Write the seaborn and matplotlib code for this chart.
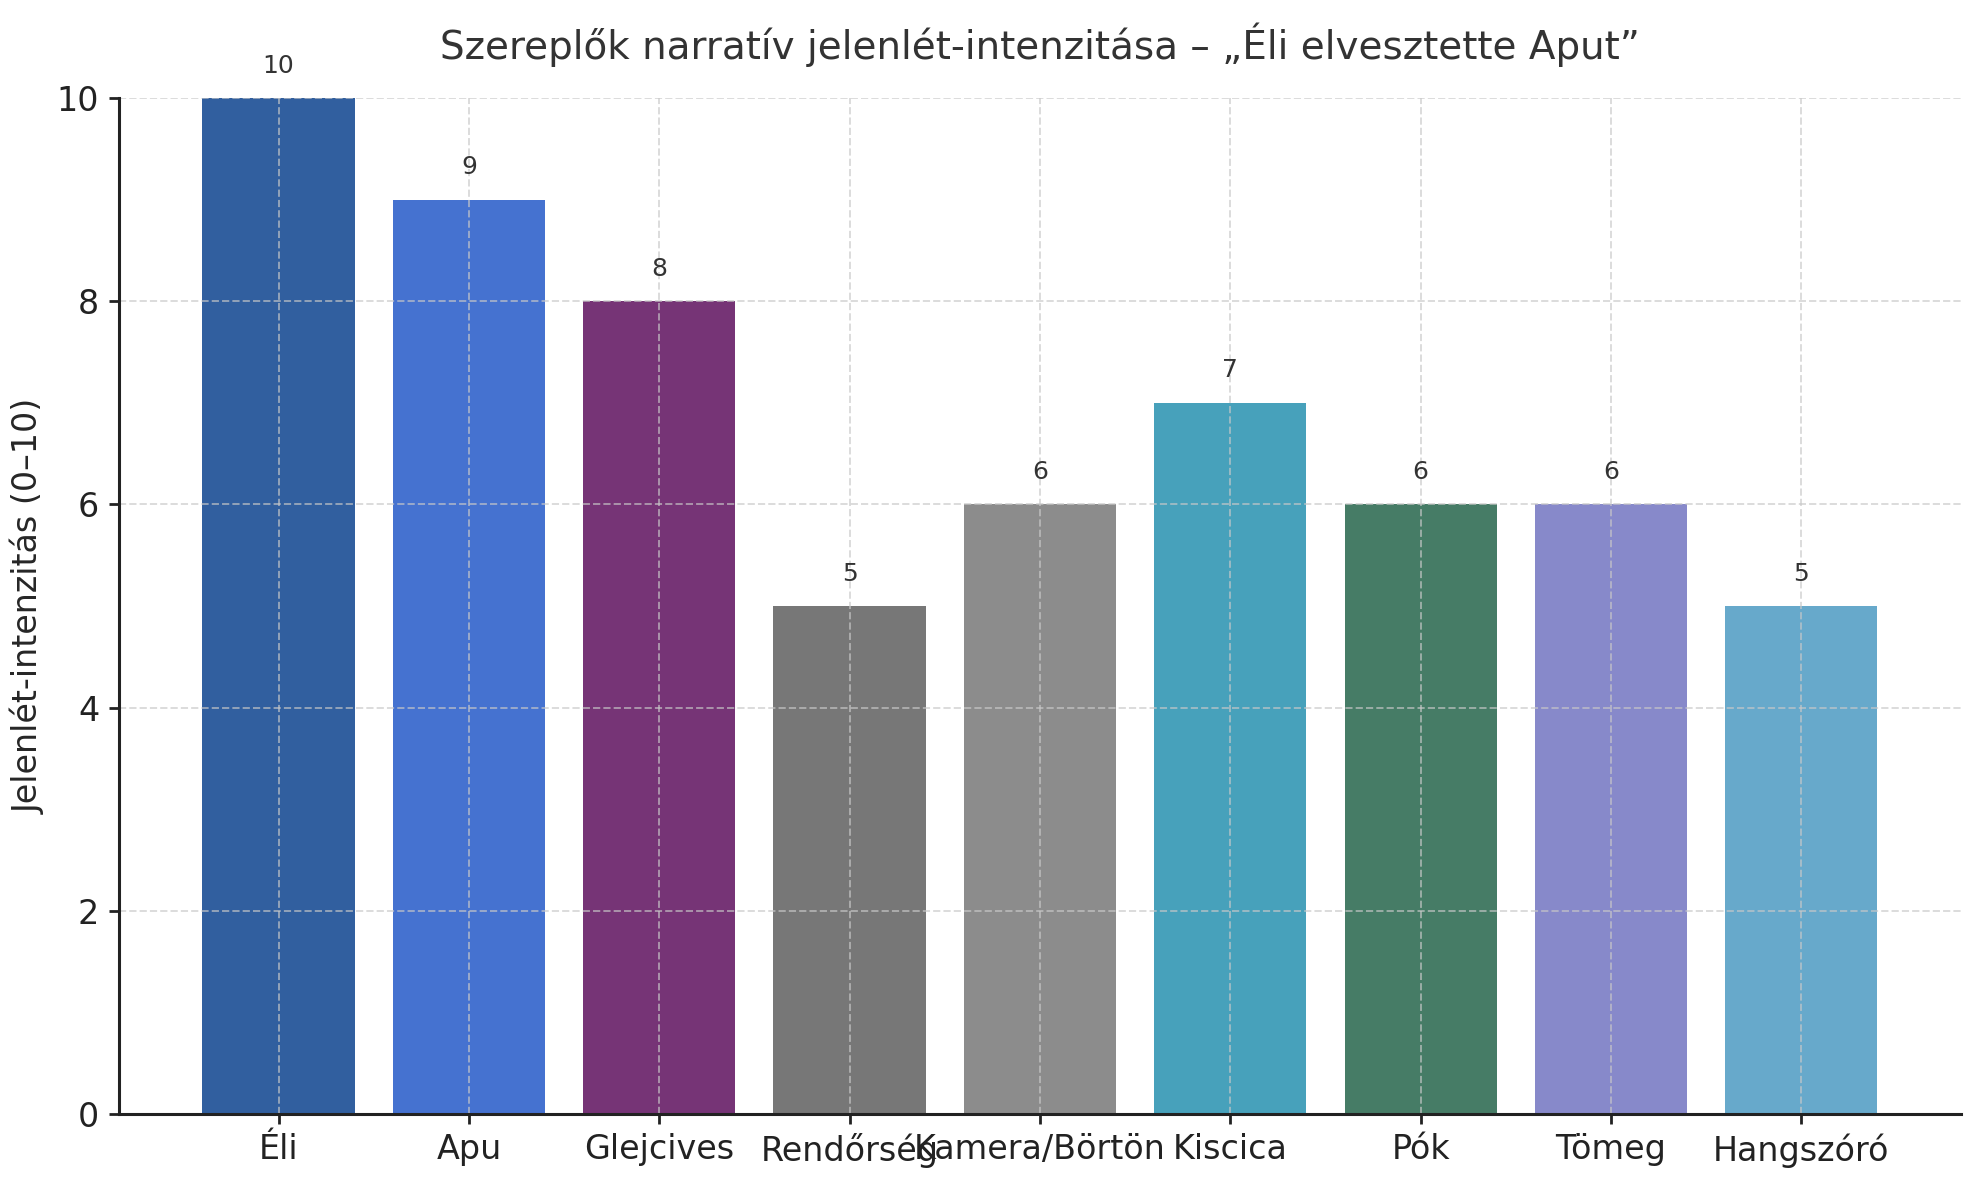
import matplotlib
matplotlib.use("Agg")
import matplotlib.pyplot as plt
import seaborn as sns
import pandas as pd

characters = ["Éli", "Apu", "Glejcives", "Rendőrség", "Kamera/Börtön",
              "Kiscica", "Pók", "Tömeg", "Hangszóró"]
intensity = [10, 9, 8, 5, 6, 7, 6, 6, 5]
bar_colors = ["#315f9f", "#4572d0", "#763476", "#777777", "#8c8c8c",
              "#47a1bb", "#467c66", "#8789ca", "#67a9cb"]

sns.set_style("white")
plt.rcParams['font.family'] = ['DejaVu Sans']

df = pd.DataFrame({"szereplo": characters, "ertek": intensity})

fig = plt.figure(figsize=(9.895, 5.9), dpi=200)
ax = fig.add_axes([0.06, 0.056, 0.931, 0.861])

sns.barplot(data=df, x="szereplo", y="ertek", hue="szereplo",
            palette=bar_colors, legend=False, width=0.8, saturation=1,
            linewidth=0, ax=ax)

# value labels above bars
for i, v in enumerate(intensity):
    ax.text(i, v + 0.2, str(v), ha='center', va='bottom',
            fontsize=9, color='#333333')

ax.set_ylim(0, 10)
ax.set_xlim(-0.84, len(characters) - 1 + 0.84)
ax.set_yticks([0, 2, 4, 6, 8, 10])
ax.set_title('Szereplők narratív jelenlét-intenzitása – „Éli elvesztette Aput”',
             fontsize=14, color='#333333', pad=14)
ax.set_ylabel('Jelenlét-intenzitás (0–10)', fontsize=12, color='#262626')
ax.set_xlabel('')
ax.tick_params(axis='both', labelsize=12, colors='#222222', length=3.5,
               width=1, direction='out', left=True, bottom=True)
ax.grid(True, linestyle='--', color='#c8c8c8', alpha=0.65, linewidth=0.7)
ax.set_axisbelow(False)
for s in ['top', 'right']:
    ax.spines[s].set_visible(False)
for s in ['left', 'bottom']:
    ax.spines[s].set_color('#222222')
    ax.spines[s].set_linewidth(1.1)
    ax.spines[s].set_zorder(5)

fig.savefig('out.png', dpi=200)
